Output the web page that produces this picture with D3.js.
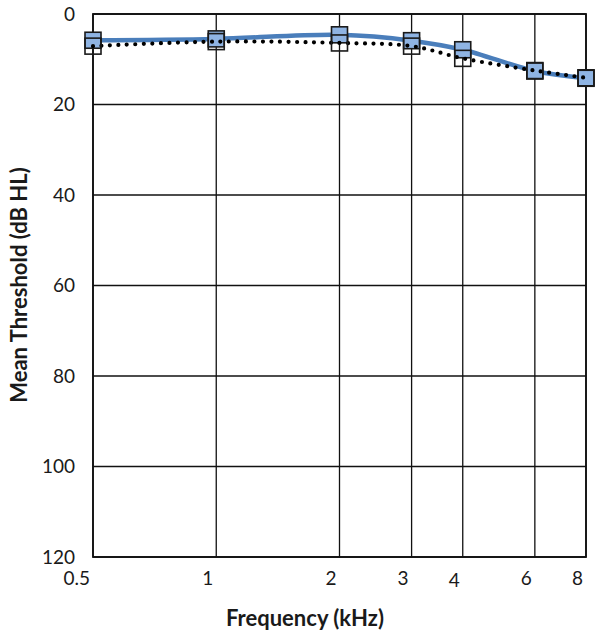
<!DOCTYPE html>
<html>
<head>
<meta charset="utf-8">
<script src="https://cdn.jsdelivr.net/npm/d3@7"></script>
<style>
  body { margin: 0; background: #fff; }
  text { font-family: Lato, "Open Sans", sans-serif; fill: #1a1a1a; }
</style>
</head>
<body>
<div class="chart"></div>
<script>
// frequencies in kHz
var freqs = [0.5, 1, 2, 3, 4, 6, 8];
var freqLabels = ["0.5", "1", "2", "3", "4", "6", "8"];
// mean thresholds (dB HL)
var solidSeries = [5.8, 5.5, 4.6, 5.9, 7.9, 12.6, 14.2];
var dottedSeries = [7.1, 6.1, 6.4, 7.1, 9.8, 12.5, 14.1];
var yTicks = [0, 20, 40, 60, 80, 100, 120];

var margin = {left: 93, right: 18, top: 14, bottom: 81};
var W = 604, H = 638;
var iw = W - margin.left - margin.right, ih = H - margin.top - margin.bottom;

var svg = d3.select("div.chart").append("svg").attr("width", W).attr("height", H);
var g = svg.append("g").attr("transform", "translate(" + margin.left + "," + margin.top + ")");

var x = d3.scaleLog().domain([0.5, 8]).range([0, iw]);
var y = d3.scaleLinear().domain([0, 120]).range([0, ih]);

// grid
g.selectAll("line.hgrid").data(yTicks).enter().append("line")
    .attr("x1", 0).attr("x2", iw)
    .attr("y1", function(d) { return y(d); }).attr("y2", function(d) { return y(d); })
    .attr("stroke", "#111").attr("stroke-width", 1.3);
g.selectAll("line.vgrid").data(freqs).enter().append("line")
    .attr("y1", 0).attr("y2", ih)
    .attr("x1", function(d) { return x(d); }).attr("x2", function(d) { return x(d); })
    .attr("stroke", "#111").attr("stroke-width", 1.3);
g.append("rect").attr("width", iw).attr("height", ih)
    .attr("fill", "none").attr("stroke", "#111").attr("stroke-width", 1.8);

// tick labels
g.selectAll("text.ylab").data(yTicks).enter().append("text")
    .attr("x", -18).attr("y", function(d) { return y(d); })
    .attr("dy", "0.36em").attr("text-anchor", "end")
    .style("font-size", "19px").text(function(d) { return d; });
g.selectAll("text.xlab").data(freqs).enter().append("text")
    .attr("x", function(d) { return x(d) - 3; })
    .attr("y", function(d, i) { return ih + 28 + (freqLabels[i] === "4" ? 2 : 0); })
    .attr("text-anchor", "end")
    .style("font-size", "19px").text(function(d, i) { return freqLabels[i]; });

// axis titles
svg.append("text").attr("x", 305).attr("y", 626).attr("text-anchor", "middle")
    .style("font-size", "22px").style("font-weight", "bold").text("Frequency (kHz)");
svg.append("text").attr("transform", "translate(27,285) rotate(-90)").attr("text-anchor", "middle")
    .style("font-size", "22px").style("font-weight", "bold").text("Mean Threshold (dB HL)");

var line = d3.line()
    .x(function(d, i) { return x(freqs[i]); })
    .y(function(d) { return y(d); })
    .curve(d3.curveCatmullRom.alpha(0.5));

var sq = 16;

// solid series
g.append("path").attr("d", line(solidSeries))
    .attr("fill", "none").attr("stroke", "#4a7ebb").attr("stroke-width", 4.5);
g.selectAll("rect.solid").data(solidSeries).enter().append("rect")
    .attr("x", function(d, i) { return x(freqs[i]) - sq / 2; })
    .attr("y", function(d) { return y(d) - sq / 2; })
    .attr("width", sq).attr("height", sq)
    .attr("fill", "#8fb4e3").attr("stroke", "#1a1a1a").attr("stroke-width", 1.6);

// dotted series
g.append("path").attr("d", line(dottedSeries))
    .attr("fill", "none").attr("stroke", "#000").attr("stroke-width", 4.2)
    .attr("stroke-linecap", "round").attr("stroke-dasharray", "0 8.5");
g.selectAll("rect.dotted").data(dottedSeries).enter().append("rect")
    .attr("x", function(d, i) { return x(freqs[i]) - sq / 2; })
    .attr("y", function(d) { return y(d) - sq / 2; })
    .attr("width", sq).attr("height", sq)
    .attr("fill", "none").attr("stroke", "#1a1a1a").attr("stroke-width", 1.6);
</script>
</body>
</html>
